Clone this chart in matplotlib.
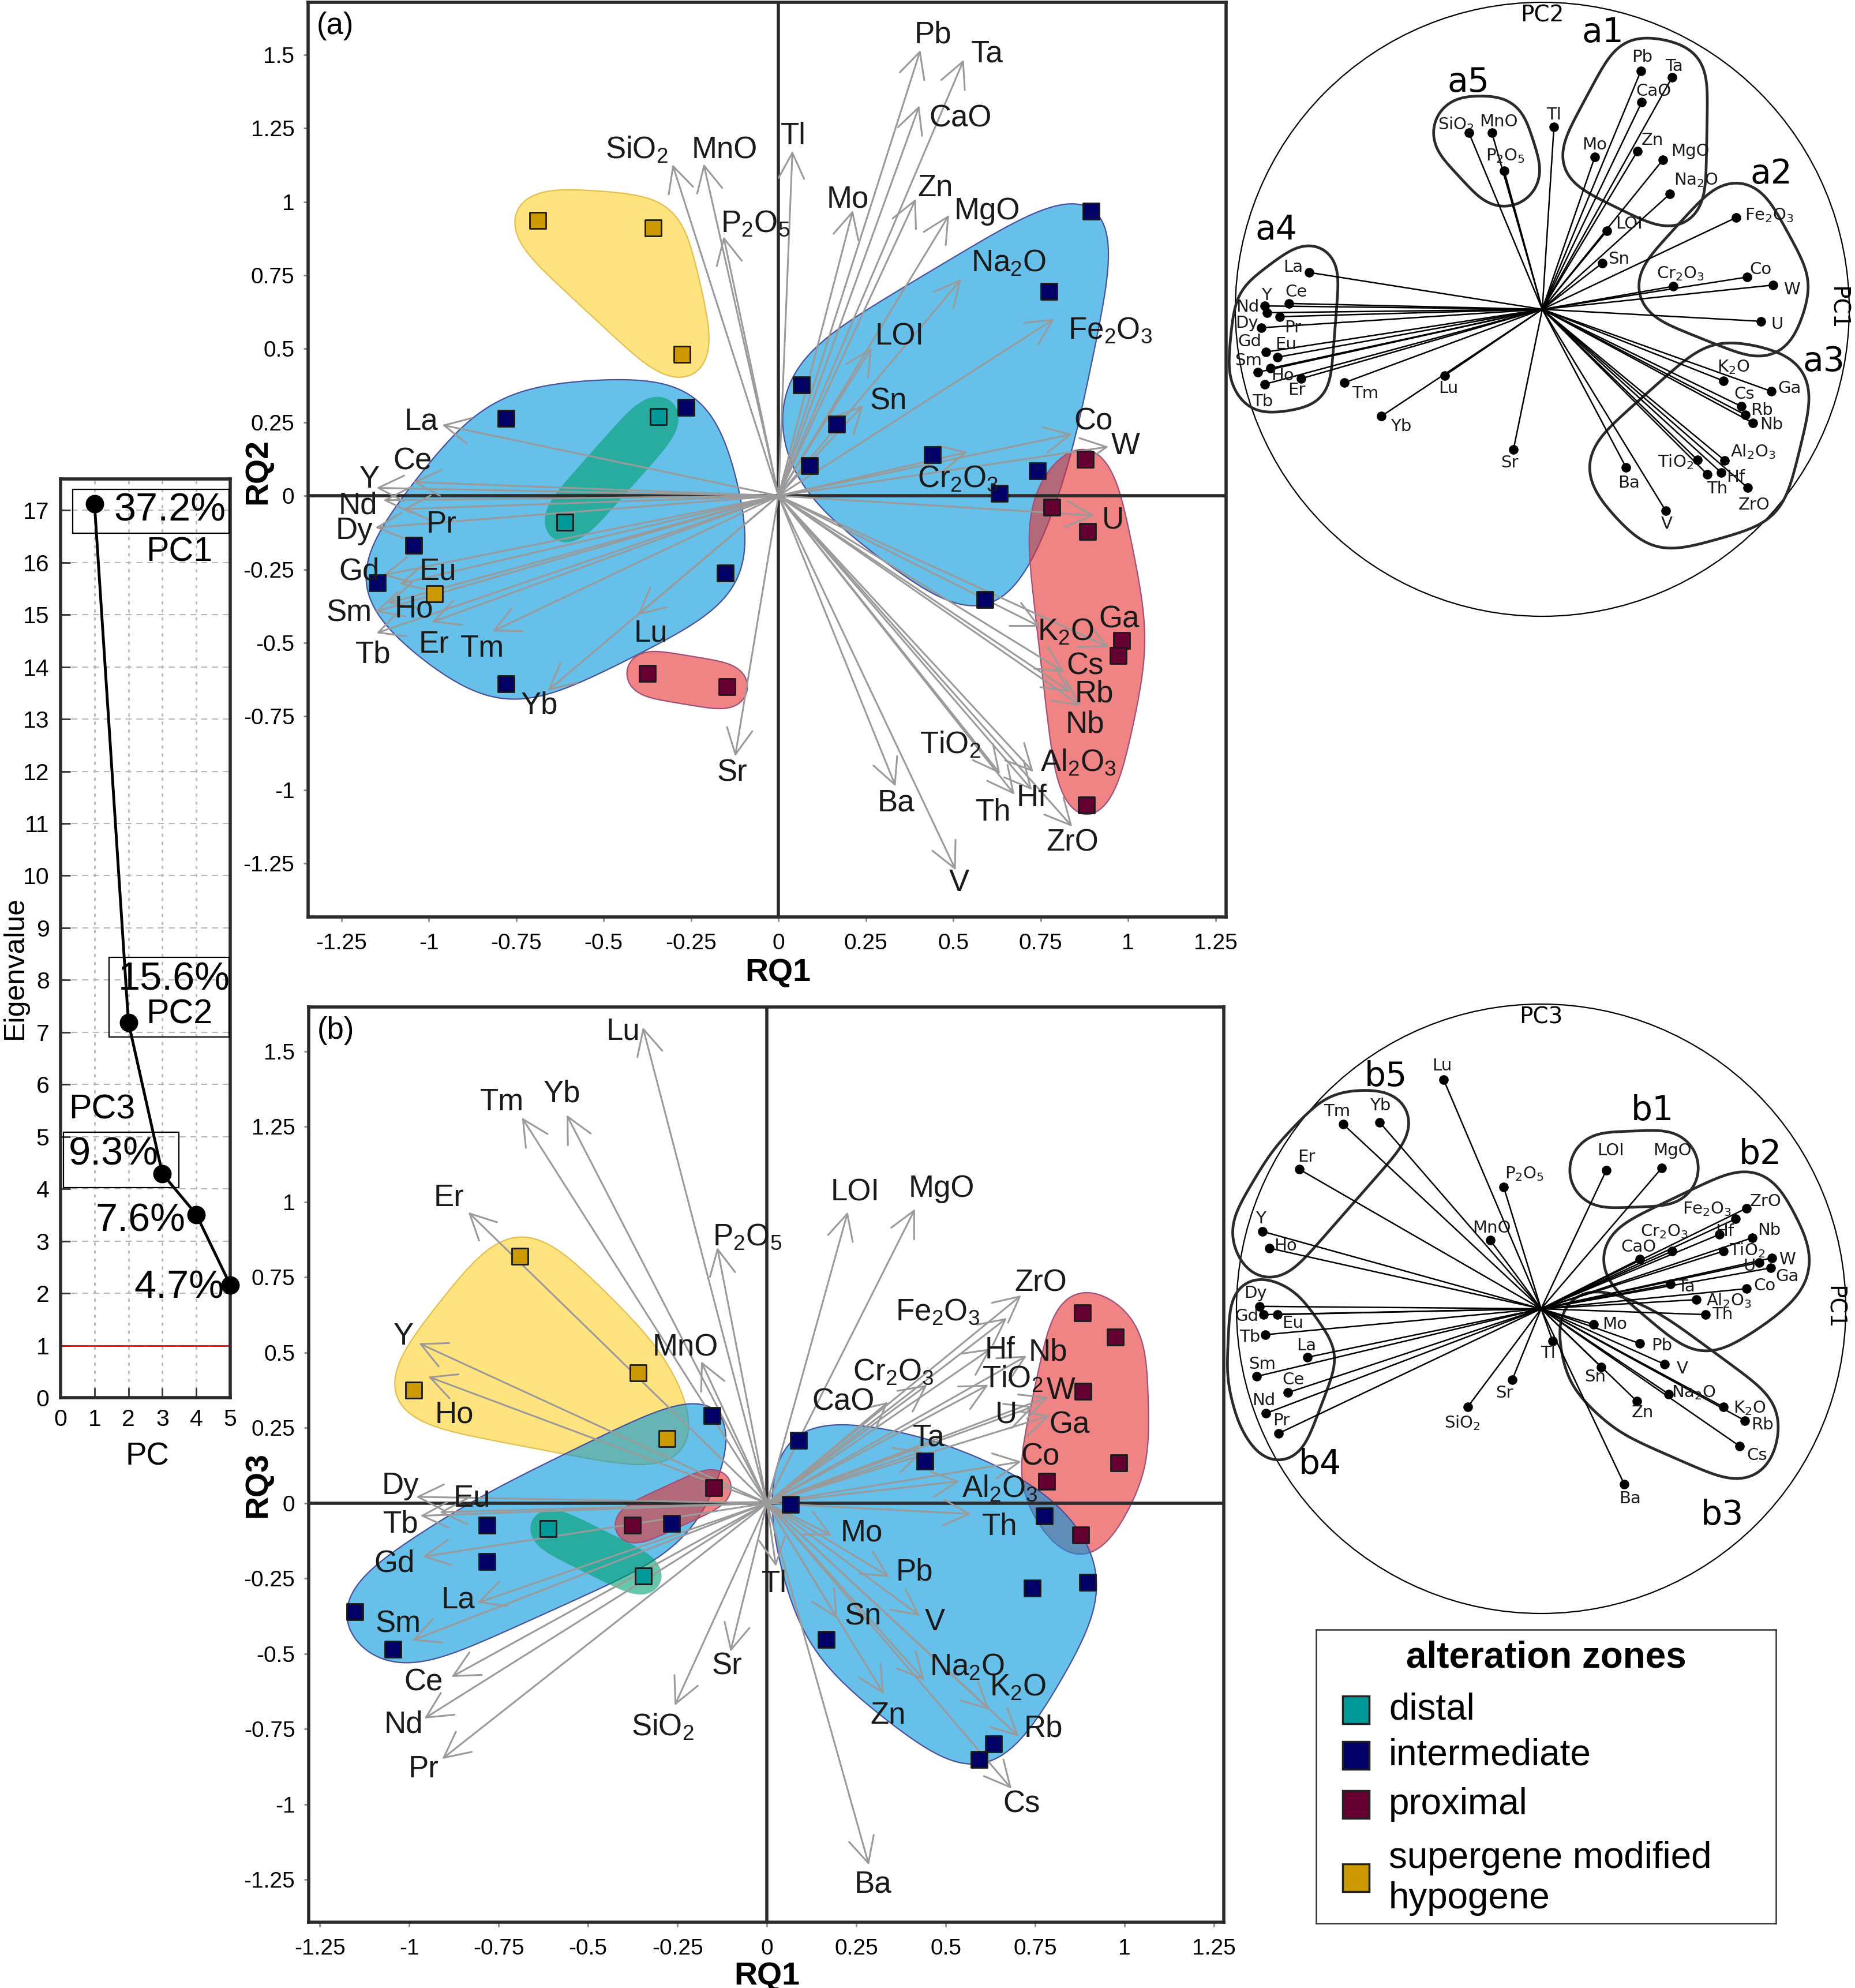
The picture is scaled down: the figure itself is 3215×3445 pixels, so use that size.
import numpy as np
import matplotlib
matplotlib.use("Agg")
import matplotlib.pyplot as plt
from matplotlib import font_manager
from matplotlib.patches import Polygon, Circle, Rectangle, FancyArrowPatch

# ---------------- data ----------------
pc = [1, 2, 3, 4, 5]
eigen = [17.12, 7.19, 4.29, 3.51, 2.16]
var_pct = [37.2, 15.6, 9.3, 7.6, 4.7]

variables = ['SiO2', 'TiO2', 'Al2O3', 'Fe2O3', 'MnO', 'MgO', 'CaO', 'Na2O', 'K2O',
             'P2O5', 'Cr2O3', 'LOI', 'Ba', 'Co', 'Cs', 'Ga', 'Hf', 'Nb', 'Rb', 'Sn',
             'Sr', 'Ta', 'Th', 'U', 'V', 'W', 'ZrO', 'Y', 'La', 'Ce', 'Pr', 'Nd',
             'Sm', 'Eu', 'Gd', 'Tb', 'Dy', 'Ho', 'Er', 'Tm', 'Yb', 'Lu', 'Mo', 'Pb',
             'Zn', 'Tl']

# rotated loadings, panel (a)
rq1_a = [-0.303, 0.634, 0.729, 0.789, -0.214, 0.488, 0.403, 0.523, 0.748,
         -0.157, 0.541, 0.267, 0.335, 0.840, 0.818, 0.944, 0.725, 0.865, 0.835, 0.242,
         -0.124, 0.530, 0.675, 0.903, 0.507, 0.944, 0.840, -1.150, -0.962, -1.045, -1.072, -1.130,
         -1.153, -1.085, -1.132, -1.150, -1.153, -1.117, -0.992, -0.818, -0.660, -0.403, 0.213, 0.406,
         0.393, 0.040]
rq2_a = [1.127, -0.945, -0.939, 0.602, 1.129, 0.955, 1.327, 0.737, -0.445,
         0.882, 0.149, 0.504, -0.988, 0.210, -0.600, -0.514, -1.000, -0.714, -0.667, 0.308,
         -0.886, 1.483, -1.016, -0.067, -1.273, 0.167, -1.125, 0.027, 0.241, 0.047, -0.045, -0.015,
         -0.394, -0.300, -0.270, -0.467, -0.108, -0.365, -0.430, -0.461, -0.663, -0.406, 0.971, 1.516,
         1.010, 1.173]
# rotated loadings, panel (b)
rq1_b = [-0.258, 0.619, 0.538, 0.671, -0.184, 0.414, 0.339, 0.440, 0.622,
         -0.139, 0.448, 0.226, 0.285, 0.711, 0.684, 0.791, 0.626, 0.726, 0.704, 0.197,
         -0.102, 0.435, 0.571, 0.745, 0.428, 0.787, 0.711, -0.973, -0.810, -0.882, -0.908, -0.958,
         -0.992, -0.915, -0.963, -0.969, -0.981, -0.947, -0.835, -0.685, -0.560, -0.347, 0.181, 0.343,
         0.327, 0.025]
rq3_b = [-0.672, 0.393, 0.073, 0.615, 0.471, 0.977, 0.336, -0.588, -0.686,
         0.849, 0.393, 0.967, -1.201, 0.138, -0.948, 0.291, 0.513, 0.489, -0.774, -0.383,
         -0.493, 0.172, -0.036, 0.321, -0.374, 0.353, 0.690, 0.531, -0.331, -0.577, -0.849, -0.715,
         -0.456, -0.030, -0.178, -0.042, 0.021, 0.420, 0.966, 1.280, 1.289, 1.580, -0.107, -0.245,
         -0.634, -0.210]

# correlation circles
pc1_a = [-0.239, 0.506, 0.594, 0.632, -0.164, 0.393, 0.324, 0.416, 0.590,
         -0.124, 0.427, 0.211, 0.273, 0.667, 0.648, 0.746, 0.583, 0.686, 0.662, 0.195,
         -0.094, 0.423, 0.538, 0.712, 0.402, 0.752, 0.669, -0.904, -0.759, -0.825, -0.855, -0.896,
         -0.927, -0.863, -0.900, -0.904, -0.915, -0.885, -0.786, -0.645, -0.524, -0.318, 0.171, 0.321,
         0.310, 0.038]
pc2_a = [0.575, -0.491, -0.492, 0.299, 0.575, 0.487, 0.675, 0.376, -0.233,
         0.451, 0.075, 0.256, -0.515, 0.105, -0.316, -0.267, -0.532, -0.370, -0.344, 0.150,
         -0.457, 0.756, -0.538, -0.039, -0.656, 0.079, -0.581, 0.011, 0.120, 0.019, -0.024, -0.011,
         -0.205, -0.156, -0.139, -0.244, -0.060, -0.192, -0.226, -0.239, -0.348, -0.216, 0.496, 0.776,
         0.515, 0.594]
pc1_b = [-0.241, 0.598, 0.510, 0.638, -0.167, 0.396, 0.324, 0.419, 0.598,
         -0.123, 0.430, 0.214, 0.273, 0.674, 0.652, 0.754, 0.585, 0.693, 0.669, 0.197,
         -0.095, 0.425, 0.540, 0.716, 0.405, 0.758, 0.674, -0.915, -0.767, -0.831, -0.862, -0.903,
         -0.934, -0.866, -0.911, -0.905, -0.924, -0.892, -0.794, -0.650, -0.530, -0.320, 0.172, 0.324,
         0.314, 0.038]
pc3_b = [-0.322, 0.189, 0.030, 0.295, 0.225, 0.462, 0.163, -0.280, -0.322,
         0.400, 0.189, 0.455, -0.576, 0.066, -0.451, 0.134, 0.244, 0.233, -0.367, -0.191,
         -0.233, 0.081, -0.019, 0.152, -0.182, 0.167, 0.330, 0.254, -0.159, -0.275, -0.409, -0.343,
         -0.222, -0.019, -0.019, -0.085, 0.008, 0.199, 0.458, 0.606, 0.612, 0.752, -0.051, -0.114,
         -0.303, -0.106]

# sample scores
zones = ['distal', 'intermediate', 'proximal', 'supergene modified\nhypogene']
zone_colors = ['#009999', '#000066', '#660033', '#cc9900']

distal_a_x = [-0.343, -0.611]
distal_a_y = [0.269, -0.090]
intermediate_a_x = [-0.779, -0.264, -1.043, -1.147, -0.779, -0.152, 0.894, 0.774, 0.066, 0.167,
                    0.089, 0.441, 0.741, 0.632, 0.591]
intermediate_a_y = [0.264, 0.300, -0.169, -0.296, -0.639, -0.263, 0.967, 0.694, 0.378, 0.243,
                    0.102, 0.139, 0.084, 0.008, -0.353]
proximal_a_x = [0.878, 0.782, 0.884, 0.982, 0.972, 0.881, -0.375, -0.147]
proximal_a_y = [0.123, -0.039, -0.122, -0.492, -0.543, -1.051, -0.604, -0.649]
supergene_a_x = [-0.688, -0.358, -0.276, -0.983]
supergene_a_y = [0.937, 0.910, 0.482, -0.333]

distal_b_x = [-0.611, -0.345]
distal_b_y = [-0.084, -0.241]
intermediate_b_x = [-0.153, -0.782, -0.266, -0.782, -1.152, -1.045, 0.089, 0.442, 0.066, 0.776,
                    0.742, 0.897, 0.166, 0.634, 0.593]
intermediate_b_y = [0.291, -0.073, -0.067, -0.193, -0.360, -0.485, 0.209, 0.140, -0.004, -0.042,
                    -0.282, -0.262, -0.452, -0.799, -0.851]
proximal_b_x = [-0.148, -0.376, 0.882, 0.974, 0.884, 0.984, 0.782, 0.877]
proximal_b_y = [0.052, -0.073, 0.632, 0.552, 0.372, 0.134, 0.073, -0.105]
supergene_b_x = [-0.690, -0.360, -0.987, -0.279]
supergene_b_y = [0.820, 0.433, 0.375, 0.215]

# ---------------- label placement (layout) ----------------
lab_a = {'SiO2': (-0.405, 1.175), 'MnO': (-0.154, 1.175), 'P2O5': (-0.067, 0.925), 'Tl': (0.042, 1.222),
         'Pb': (0.441, 1.567), 'Ta': (0.597, 1.503), 'CaO': (0.521, 1.283), 'Mo': (0.198, 1.007),
         'Zn': (0.448, 1.046), 'MgO': (0.597, 0.968), 'Na2O': (0.659, 0.791), 'LOI': (0.347, 0.541),
         'Sn': (0.314, 0.321), 'Fe2O3': (0.949, 0.563), 'Co': (0.901, 0.252), 'W': (0.992, 0.170),
         'Cr2O3': (0.513, 0.059), 'U': (0.956, -0.084), 'Ga': (0.974, -0.420), 'K2O': (0.822, -0.463),
         'Cs': (0.876, -0.580), 'Rb': (0.902, -0.674), 'Nb': (0.876, -0.778), 'TiO2': (0.491, -0.847),
         'Al2O3': (0.858, -0.907), 'Hf': (0.724, -1.028), 'Th': (0.615, -1.076), 'ZrO': (0.840, -1.179),
         'Ba': (0.336, -1.045), 'V': (0.517, -1.317), 'Sr': (-0.133, -0.942), 'Lu': (-0.365, -0.468),
         'Yb': (-0.684, -0.713), 'Tm': (-0.847, -0.519), 'Er': (-0.985, -0.506), 'Tb': (-1.159, -0.541),
         'Sm': (-1.228, -0.398), 'Ho': (-1.043, -0.386), 'Gd': (-1.199, -0.257), 'Eu': (-0.974, -0.257),
         'Dy': (-1.214, -0.119), 'Pr': (-0.963, -0.097), 'Nd': (-1.203, -0.034), 'Y': (-1.170, 0.055),
         'Ce': (-1.047, 0.118), 'La': (-1.021, 0.253)}
lab_b = {'Lu': (-0.402, 1.565), 'Tm': (-0.740, 1.330), 'Yb': (-0.573, 1.359), 'Er': (-0.889, 1.013),
         'P2O5': (-0.055, 0.883), 'LOI': (0.247, 1.031), 'MgO': (0.488, 1.043), 'ZrO': (0.765, 0.731),
         'Fe2O3': (0.477, 0.634), 'Hf': (0.651, 0.508), 'Nb': (0.786, 0.500), 'Cr2O3': (0.354, 0.436),
         'TiO2': (0.686, 0.411), 'W': (0.821, 0.373), 'CaO': (0.214, 0.335), 'U': (0.669, 0.293),
         'Ga': (0.846, 0.259), 'MnO': (-0.228, 0.516), 'Y': (-1.016, 0.554), 'Ho': (-0.874, 0.293),
         'Ta': (0.453, 0.217), 'Co': (0.765, 0.154), 'Al2O3': (0.651, 0.049), 'Th': (0.651, -0.078),
         'Dy': (-1.024, 0.057), 'Eu': (-0.825, 0.015), 'Tb': (-1.024, -0.070), 'Gd': (-1.041, -0.200),
         'La': (-0.864, -0.322), 'Sm': (-1.031, -0.402), 'Ce': (-0.960, -0.596), 'Nd': (-1.016, -0.735),
         'Pr': (-0.960, -0.883), 'SiO2': (-0.292, -0.743), 'Sr': (-0.111, -0.542), 'Tl': (0.020, -0.268),
         'Mo': (0.264, -0.099), 'Pb': (0.413, -0.230), 'Sn': (0.268, -0.377), 'V': (0.470, -0.394),
         'Na2O': (0.559, -0.546), 'K2O': (0.701, -0.613), 'Zn': (0.339, -0.706), 'Rb': (0.772, -0.748),
         'Cs': (0.711, -1.000), 'Ba': (0.296, -1.265)}
clab_a = {'Pb': (0.325, 0.821), 'Ta': (0.429, 0.791), 'CaO': (0.363, 0.711), 'Mo': (0.171, 0.536),
          'Zn': (0.359, 0.551), 'MgO': (0.481, 0.515), 'Na2O': (0.500, 0.421), 'LOI': (0.282, 0.278),
          'Sn': (0.250, 0.164), 'Tl': (0.038, 0.634), 'SiO2': (-0.282, 0.603), 'MnO': (-0.143, 0.611),
          'P2O5': (-0.120, 0.500), 'Fe2O3': (0.739, 0.306), 'Co': (0.712, 0.130), 'W': (0.812, 0.064),
          'Cr2O3': (0.451, 0.117), 'U': (0.765, -0.049), 'K2O': (0.622, -0.188), 'Ga': (0.806, -0.258),
          'Cs': (0.658, -0.276), 'Rb': (0.716, -0.329), 'Nb': (0.746, -0.376), 'Al2O3': (0.686, -0.463),
          'TiO2': (0.434, -0.498), 'Hf': (0.630, -0.547), 'Th': (0.570, -0.585), 'ZrO': (0.690, -0.637),
          'Ba': (0.282, -0.566), 'V': (0.406, -0.699), 'Sr': (-0.107, -0.500), 'Lu': (-0.306, -0.258),
          'Yb': (-0.460, -0.382), 'Tm': (-0.577, -0.274), 'La': (-0.812, 0.137), 'Ce': (-0.801, 0.056),
          'Y': (-0.898, 0.045), 'Nd': (-0.960, 0.008), 'Pr': (-0.812, -0.060), 'Dy': (-0.962, -0.045),
          'Gd': (-0.953, -0.105), 'Eu': (-0.836, -0.115), 'Sm': (-0.957, -0.167), 'Ho': (-0.846, -0.216),
          'Er': (-0.801, -0.263), 'Tb': (-0.912, -0.301)}
clab_b = {'Lu': (-0.326, 0.797), 'Tm': (-0.670, 0.648), 'Yb': (-0.528, 0.667), 'Er': (-0.771, 0.498),
          'P2O5': (-0.055, 0.443), 'MnO': (-0.163, 0.265), 'Y': (-0.920, 0.295), 'Ho': (-0.839, 0.206),
          'LOI': (0.229, 0.519), 'MgO': (0.430, 0.519), 'ZrO': (0.737, 0.352), 'Fe2O3': (0.544, 0.327),
          'Hf': (0.603, 0.254), 'Nb': (0.749, 0.258), 'Cr2O3': (0.405, 0.254), 'CaO': (0.320, 0.203),
          'TiO2': (0.676, 0.192), 'U': (0.684, 0.140), 'W': (0.807, 0.161), 'Ga': (0.807, 0.106),
          'Ta': (0.477, 0.072), 'Co': (0.733, 0.076), 'Al2O3': (0.616, 0.028), 'Th': (0.595, -0.019),
          'Mo': (0.242, -0.051), 'Pb': (0.396, -0.121), 'V': (0.464, -0.197), 'Tl': (0.023, -0.146),
          'Sn': (0.178, -0.224), 'Zn': (0.333, -0.341), 'Na2O': (0.500, -0.275), 'K2O': (0.684, -0.326),
          'Rb': (0.727, -0.381), 'Cs': (0.708, -0.481), 'Ba': (0.292, -0.623), 'Sr': (-0.121, -0.277),
          'SiO2': (-0.258, -0.375), 'Dy': (-0.938, 0.051), 'Gd': (-0.966, -0.025), 'Eu': (-0.816, -0.047),
          'Tb': (-0.956, -0.093), 'La': (-0.771, -0.121), 'Sm': (-0.915, -0.182), 'Ce': (-0.814, -0.233),
          'Nd': (-0.911, -0.301), 'Pr': (-0.852, -0.367)}

groups_a = [('a1', ['Pb', 'Ta', 'CaO', 'Mo', 'Zn', 'MgO', 'Na2O'], 62, (0.197, 0.902)),
            ('a2', ['Fe2O3', 'Co', 'W', 'Cr2O3', 'U'], 66, (0.746, 0.440)),
            ('a3', ['K2O', 'Ga', 'Cs', 'Rb', 'Nb', 'Al2O3', 'TiO2', 'Hf', 'Th', 'ZrO', 'V', 'Ba'], 72, (0.917, -0.171)),
            ('a4', ['La', 'Ce', 'Y', 'Nd', 'Pr', 'Dy', 'Gd', 'Eu', 'Sm', 'Ho', 'Er', 'Tb'], 52, (-0.867, 0.259)),
            ('a5', ['SiO2', 'MnO', 'P2O5'], 64, (-0.241, 0.739))]
groups_b = [('b1', ['LOI', 'MgO'], 66, (0.366, 0.650)),
            ('b2', ['ZrO', 'Fe2O3', 'Hf', 'Nb', 'Cr2O3', 'CaO', 'TiO2', 'U', 'W', 'Ga', 'Ta', 'Co', 'Al2O3', 'Th'], 70, (0.720, 0.506)),
            ('b3', ['Mo', 'Pb', 'V', 'Sn', 'Zn', 'Na2O', 'K2O', 'Rb', 'Cs'], 64, (0.595, -0.678)),
            ('b4', ['Dy', 'Gd', 'Eu', 'Tb', 'La', 'Sm', 'Ce', 'Nd', 'Pr'], 52, (-0.725, -0.511)),
            ('b5', ['Tm', 'Yb', 'Er', 'Y', 'Ho'], 58, (-0.510, 0.763))]

# ---------------- styling ----------------
plt.rcParams['font.family'] = ['Liberation Sans', 'DejaVu Sans']
plt.rcParams['mathtext.default'] = 'regular'

installed = {f.name for f in font_manager.fontManager.ttflist}
if 'Liberation Sans Narrow' in installed:
    NARROW, nscale = 'Liberation Sans Narrow', 1.0
else:
    NARROW, nscale = 'Liberation Sans', 0.82

BLOB = {'blue': ((0, 150 / 255, 220 / 255, 0.6), '#4a4f9e'),
        'yellow': ((1.0, 200 / 255, 0, 0.5), '#e5bf4c'),
        'red': ((230 / 255, 50 / 255, 50 / 255, 0.6), '#a0507a'),
        'green': ((0, 160 / 255, 112 / 255, 0.6), 'none')}
ARROW_C = '#9a9a9a'
DARK = '#2b2b2b'

W, H = 3215, 3445
fig = plt.figure(figsize=(W / 100, H / 100), dpi=100)


def px_axes(x0, y0, x1, y1):
    return fig.add_axes([x0 / W, 1 - y1 / H, (x1 - x0) / W, (y1 - y0) / H])


def chem(s):
    return ''.join('$_{%s}$' % c if c.isdigit() else c for c in s)


def convex_hull(p):
    p = sorted(map(tuple, p))

    def cross(o, a, b):
        return (a[0] - o[0]) * (b[1] - o[1]) - (a[1] - o[1]) * (b[0] - o[0])
    lower, upper = [], []
    for q in p:
        while len(lower) >= 2 and cross(lower[-2], lower[-1], q) <= 0:
            lower.pop()
        lower.append(q)
    for q in reversed(p):
        while len(upper) >= 2 and cross(upper[-2], upper[-1], q) <= 0:
            upper.pop()
        upper.append(q)
    return np.array(lower[:-1] + upper[:-1])


def smooth_closed(poly, n=256, sigma=4.0):
    # resample the outline by arc length and low-pass it (soft, blob-like shape)
    p = np.vstack([poly, poly[:1]])
    seg = np.hypot(*np.diff(p, axis=0).T)
    s = np.concatenate([[0], np.cumsum(seg)])
    t = np.linspace(0, s[-1], n, endpoint=False)
    z = np.interp(t, s, p[:, 0]) + 1j * np.interp(t, s, p[:, 1])
    Z = np.fft.fft(z)
    k = np.fft.fftfreq(n, 1 / n)
    Z *= np.exp(-0.5 * (k / sigma) ** 2)
    z = np.fft.ifft(Z)
    return np.column_stack([z.real, z.imag])


def rounded_hull(ax, xs, ys, rad, sigma=4.0):
    pts = ax.transData.transform(np.column_stack([xs, ys]))
    t = np.linspace(0, 2 * np.pi, 60, endpoint=False)
    ring = np.column_stack([np.cos(t), np.sin(t)]) * rad
    cloud = (pts[:, None, :] + ring[None, :, :]).reshape(-1, 2)
    outline = smooth_closed(convex_hull(cloud), sigma=sigma)
    return ax.transData.inverted().transform(outline)


def biplot(ax, lx, ly, labpos, samples, blobs, xlim, ylim, yticks, panel, xlab, ylab, xlab_xy, ylab_xy):
    ax.set_xlim(*xlim)
    ax.set_ylim(*ylim)
    xt = [-1.25, -1, -0.75, -0.5, -0.25, 0, 0.25, 0.5, 0.75, 1, 1.25]
    ax.set_xticks(xt)
    ax.set_xticklabels(['%g' % v for v in xt])
    ax.set_yticks(yticks)
    ax.set_yticklabels(['%g' % v for v in yticks])
    ax.tick_params(direction='out', length=6, width=2, color='#8c8c8c', labelsize=28)
    ax.tick_params(axis='x', pad=14)
    ax.tick_params(axis='y', pad=11)
    for sp in ax.spines.values():
        sp.set_linewidth(4)
        sp.set_color(DARK)
    for zone, idx, style, rad in blobs:
        zx, zy = samples[zone]
        hull = rounded_hull(ax, [zx[i] for i in idx], [zy[i] for i in idx], rad, sigma=3.5)
        fc, ec = BLOB[style]
        ax.add_patch(Polygon(hull, closed=True, fc=fc, ec=ec, lw=1.6, zorder=1))
    ax.axhline(0, color=DARK, lw=4, zorder=2)
    ax.axvline(0, color=DARK, lw=4, zorder=2)
    for name, x, y in zip(variables, lx, ly):
        ax.add_patch(FancyArrowPatch((0, 0), (x, y), arrowstyle='->,head_length=3.2,head_width=1.6',
                                     mutation_scale=10, color=ARROW_C, lw=2.2, shrinkA=0, shrinkB=0,
                                     zorder=3))
        tx, ty = labpos[name]
        ax.text(tx, ty, chem(name), fontsize=38, ha='center', va='center', color='#1a1a1a', zorder=6)
    for zone, col in zip(zones, zone_colors):
        zx, zy = samples[zone]
        ax.scatter(zx, zy, marker='s', s=400, c=col, edgecolors='#1a1a1a', linewidths=2, zorder=5)
    ax.text(0.009, 0.99, panel, transform=ax.transAxes, fontsize=38, ha='left', va='top')
    ax.set_xlabel(xlab, fontsize=40, fontweight='bold')
    ax.set_ylabel(ylab, fontsize=40, fontweight='bold')
    ax.xaxis.set_label_coords(*xlab_xy)
    ax.yaxis.set_label_coords(*ylab_xy)


def circle_plot(ax, u, v, labpos, groups, pcx, pcy):
    ax.set_xlim(-1, 1)
    ax.set_ylim(-1, 1)
    ax.axis('off')
    ax.add_patch(Circle((0, 0), 1, fill=False, lw=1.6, ec='black', clip_on=False))
    for x, y in zip(u, v):
        ax.plot([0, x], [0, y], color='black', lw=1.8, clip_on=False)
    ax.scatter(u, v, s=120, c='black', zorder=4, clip_on=False)
    for name in variables:
        tx, ty = labpos[name]
        ax.text(tx, ty, chem(name), fontsize=21, family='DejaVu Sans', ha='center', va='center',
                color='#1a1a1a', zorder=5)
    for gname, members, rad, (gx, gy) in groups:
        mi = [variables.index(m) for m in members]
        hull = rounded_hull(ax, [u[i] for i in mi], [v[i] for i in mi], rad, sigma=5.0)
        ax.add_patch(Polygon(hull, closed=True, fill=False, ec='#2a2a2a', lw=3.4, clip_on=False))
        ax.text(gx, gy, gname, fontsize=42, family='DejaVu Sans', ha='center', va='center')
    ax.text(0, 0.957, pcy, fontsize=28, family='DejaVu Sans', ha='center', va='center')
    ax.text(0.962, 0.004, pcx, fontsize=28, family='DejaVu Sans', ha='center', va='center', rotation=-90)


# ---------------- scree plot ----------------
sc = px_axes(105, 830, 399, 2422)
sc.set_xlim(0, 5)
sc.set_ylim(0, 17.6)
sc.set_xticks(range(6))
sc.set_yticks(range(18))
sc.yaxis.grid(True, ls=(0, (5, 4)), color='#b8b8b8', lw=1.5)
sc.xaxis.grid(True, ls=(0, (2, 3)), color='#b8b8b8', lw=2)
sc.set_axisbelow(True)
sc.axhline(1, color='red', lw=2, zorder=2)
sc.plot(pc, eigen, color='black', lw=3.5, marker='o', ms=22, clip_on=False, zorder=4)
sc.tick_params(direction='in', length=12, width=2, color='#333333', labelsize=36 * nscale, pad=14)
for t in sc.get_xticklabels() + sc.get_yticklabels():
    t.set_family(NARROW)
for sp in sc.spines.values():
    sp.set_linewidth(4)
    sp.set_color(DARK)
sc.set_xlabel('PC', fontsize=48 * nscale, family=NARROW)
sc.xaxis.set_label_coords(0.51, -0.048)
sc.set_ylabel('Eigenvalue', fontsize=44 * nscale, family=NARROW)
sc.yaxis.set_label_coords(-0.19, 0.468)

pk = dict(family=NARROW, ha='center', va='center', zorder=5)
sc.add_patch(Rectangle((0.36, 16.56), 4.61, 0.84, fill=False, lw=1.6, ec='black', zorder=3))
sc.text(3.23, 17.0, '%g%%' % var_pct[0], fontsize=60 * nscale, **pk)
sc.text(3.5, 16.2, 'PC1', fontsize=52 * nscale, **pk)
sc.add_patch(Rectangle((1.43, 6.91), 3.54, 1.52, fill=False, lw=1.6, ec='black', zorder=3))
sc.text(3.34, 8.01, '%g%%' % var_pct[1], fontsize=60 * nscale, **pk)
sc.text(3.5, 7.34, 'PC2', fontsize=52 * nscale, **pk)
sc.text(1.22, 5.52, 'PC3', fontsize=52 * nscale, **pk)
sc.add_patch(Rectangle((0.085, 4.02), 3.405, 1.07, fill=False, lw=1.6, ec='black', zorder=3))
sc.text(1.56, 4.66, '%g%%' % var_pct[2], fontsize=60 * nscale, **pk)
sc.text(2.35, 3.39, '%g%%' % var_pct[3], fontsize=60 * nscale, **pk)
sc.text(3.5, 2.11, '%g%%' % var_pct[4], fontsize=60 * nscale, **pk)

# ---------------- biplots ----------------
samples_a = {zones[0]: (distal_a_x, distal_a_y), zones[1]: (intermediate_a_x, intermediate_a_y),
             zones[2]: (proximal_a_x, proximal_a_y), zones[3]: (supergene_a_x, supergene_a_y)}
samples_b = {zones[0]: (distal_b_x, distal_b_y), zones[1]: (intermediate_b_x, intermediate_b_y),
             zones[2]: (proximal_b_x, proximal_b_y), zones[3]: (supergene_b_x, supergene_b_y)}

blobs_a = [(zones[3], [0, 1, 2], 'yellow', 58),
           (zones[1], [0, 1, 2, 3, 4, 5], 'blue', 58),
           (zones[1], [6, 7, 8, 9, 10, 11, 12, 13, 14], 'blue', 54),
           (zones[2], [0, 1, 2, 3, 4, 5], 'red', 50),
           (zones[2], [6, 7], 'red', 42),
           (zones[0], [0, 1], 'green', 46)]
blobs_b = [(zones[2], [2, 3, 4, 5, 6, 7], 'red', 54),
           (zones[1], [6, 7, 8, 9, 10, 11, 12, 13, 14], 'blue', 46),
           (zones[3], [0, 1, 2, 3], 'yellow', 60),
           (zones[1], [0, 1, 2, 3, 4, 5], 'blue', 52),
           (zones[0], [0, 1], 'green', 40),
           (zones[2], [0, 1], 'red', 37)]

yt = [-1.25, -1, -0.75, -0.5, -0.25, 0, 0.25, 0.5, 0.75, 1, 1.25, 1.5]
axa = px_axes(534, 4, 2125, 1589)
biplot(axa, rq1_a, rq2_a, lab_a, samples_a, blobs_a, (-1.345, 1.28), (-1.432, 1.678), yt,
       '(a)', 'RQ1', 'RQ2', (0.512, -0.045), (-0.038, 0.487))
axb = px_axes(535, 1745, 2121, 3331)
biplot(axb, rq1_b, rq3_b, lab_b, samples_b, blobs_b, (-1.281, 1.277), (-1.391, 1.647), yt,
       '(b)', 'RQ1', 'RQ3', (0.501, -0.043), (-0.039, 0.478))

# ---------------- correlation circles ----------------
cza = px_axes(2141, 4, 3205, 1068)
circle_plot(cza, pc1_a, pc2_a, clab_a, groups_a, 'PC1', 'PC2')
czb = px_axes(2143, 1740, 3199, 2796)
circle_plot(czb, pc1_b, pc3_b, clab_b, groups_b, 'PC1', 'PC3')

# ---------------- legend ----------------
lg = px_axes(2281, 2824, 3078, 3333)
lg.set_xlim(0, 1)
lg.set_ylim(0, 1)
lg.set_xticks([])
lg.set_yticks([])
for sp in lg.spines.values():
    sp.set_linewidth(1.8)
    sp.set_color('#333333')
lg.text(0.5, 0.904, 'alteration zones', family=NARROW, fontweight='bold', fontsize=56 * nscale,
        ha='center', va='center')
row_y = [0.727, 0.572, 0.405, 0.155]
for name, col, yc in zip(zones, zone_colors, row_y):
    lg.add_patch(Rectangle((0.058, yc - 0.047), 0.057, 0.094, fc=col, ec='#222222', lw=2.5))
    lines = name.split('\n')
    if len(lines) == 1:
        lg.text(0.158, yc, name, family=NARROW, fontsize=56 * nscale, ha='left', va='center')
    else:
        lg.text(0.158, 0.222, lines[0], family=NARROW, fontsize=56 * nscale, ha='left', va='center')
        lg.text(0.158, 0.085, lines[1], family=NARROW, fontsize=56 * nscale, ha='left', va='center')

fig.savefig('out.png', dpi=100, facecolor='white')
